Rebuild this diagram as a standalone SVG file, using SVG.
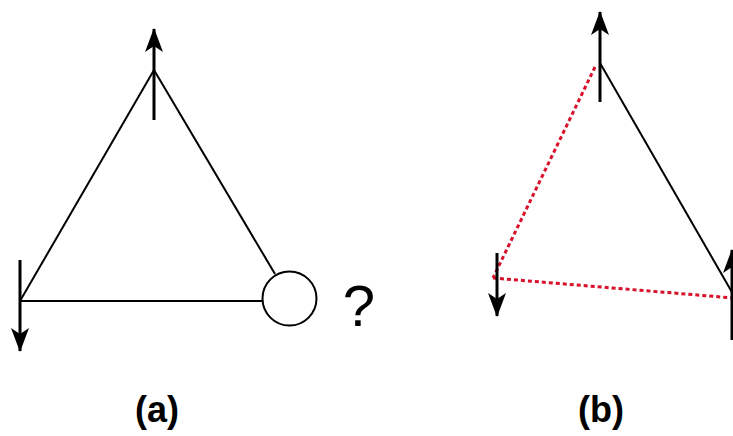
<svg xmlns="http://www.w3.org/2000/svg" width="733" height="436" viewBox="0 0 733 436">
<style>
.ln{stroke:#000;stroke-width:2;fill:none}
.sp{stroke:#000;stroke-width:3;fill:none}
.rd{stroke:#d8102a;stroke-width:3;stroke-dasharray:4 3;fill:none}
.lbl{font-family:"Liberation Sans",Arial,sans-serif;font-weight:bold;font-size:36px;text-anchor:middle}
</style>
<defs>
<marker id="ah" viewBox="0 0 24 18" refX="23" refY="9" markerWidth="24" markerHeight="18" orient="auto" markerUnits="userSpaceOnUse">
<path d="M0,0 L24,9 L0,18 L6,9 Z" fill="#000"/>
</marker>
</defs>
<rect width="733" height="436" fill="#fff"/>
<g id="connectors">
<line class="ln" x1="154" y1="70" x2="20" y2="301"/>
<line class="ln" x1="20" y1="301" x2="262" y2="301"/>
<line class="ln" x1="154" y1="70" x2="275" y2="274"/>
<line class="ln" x1="600" y1="63" x2="733" y2="294"/>
<line class="rd" x1="595" y1="67" x2="493" y2="278"/>
<line class="rd" x1="493" y1="278" x2="733" y2="298"/>
</g>
<g id="spin-a-top"><line class="sp" x1="154" y1="120" x2="154" y2="29" marker-end="url(#ah)"/></g>
<g id="spin-a-left"><line class="sp" x1="20" y1="260" x2="20" y2="351" marker-end="url(#ah)"/></g>
<g id="node-a-circle"><circle cx="289.5" cy="298.5" r="27" fill="#fff" stroke="#000" stroke-width="2"/></g>
<g id="question"><text x="359" y="326" font-family="'Liberation Sans',Arial,sans-serif" font-size="58" text-anchor="middle">?</text></g>
<g id="spin-b-top"><line class="sp" x1="600" y1="102" x2="600" y2="12" marker-end="url(#ah)"/></g>
<g id="spin-b-left"><line class="sp" x1="497" y1="253" x2="497" y2="316" marker-end="url(#ah)"/></g>
<g id="spin-b-right"><line class="sp" x1="732" y1="340" x2="732" y2="250" marker-end="url(#ah)"/></g>
<g id="label-a"><text class="lbl" x="157" y="422">(a)</text></g>
<g id="label-b"><text class="lbl" x="601" y="422">(b)</text></g>
</svg>
